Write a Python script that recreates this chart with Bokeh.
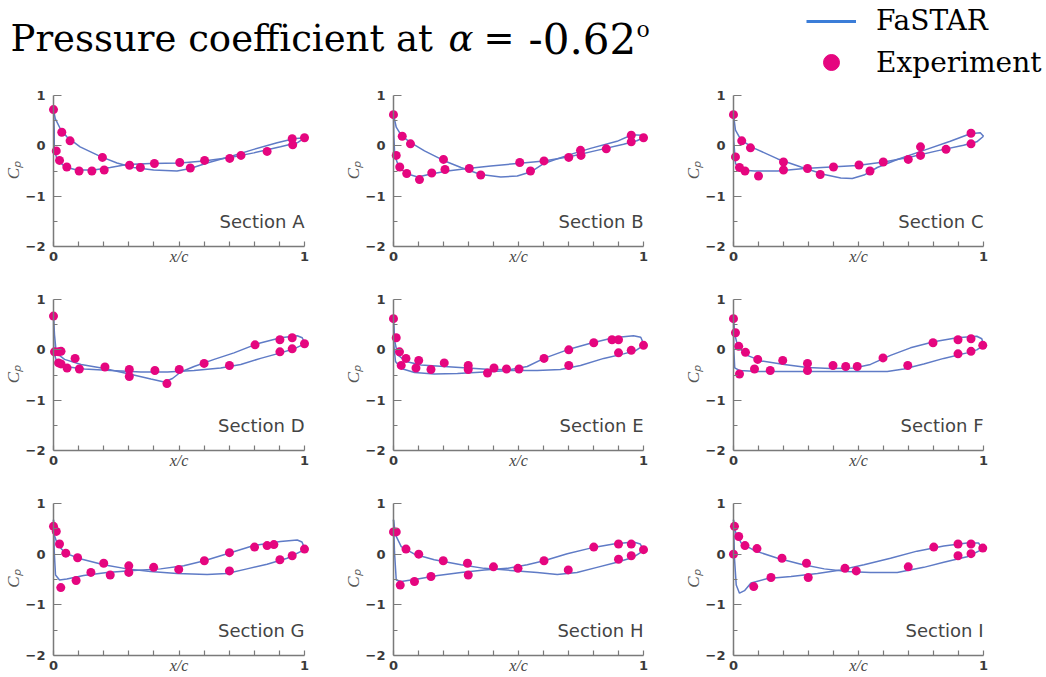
from bokeh.plotting import figure
from bokeh.models import Range1d, LinearAxis, FixedTicker, Label, Legend, LegendItem
from bokeh.layouts import column, row
from bokeh.embed import file_html
from bokeh.resources import INLINE

# ---------------- data ----------------
# Section A
a_s1_x = [0, 0.007, 0.027, 0.053, 0.106, 0.186, 0.253, 0.319, 0.399, 0.492, 0.545, 0.612, 0.705, 0.798, 0.891, 0.957, 1.0]
a_s1_cp = [0.72, 0.54, 0.34, 0.18, -0.02, -0.21, -0.34, -0.43, -0.48, -0.50, -0.45, -0.34, -0.21, -0.07, 0.06, 0.14, 0.16]
a_s2_x = [0, 0.003, 0.003, 0.016, 0.047, 0.093, 0.16, 0.226, 0.293, 0.386, 0.505, 0.598, 0.705, 0.798, 0.904, 0.971, 1.0]
a_s2_cp = [0.72, 0.31, -0.09, -0.29, -0.42, -0.48, -0.48, -0.43, -0.37, -0.35, -0.34, -0.30, -0.23, -0.14, -0.02, 0.06, 0.16]
a_exp_x = [0, 0.033, 0.066, 0.195, 0.011, 0.024, 0.053, 0.102, 0.153, 0.202, 0.303, 0.346, 0.402, 0.503, 0.545, 0.602, 0.702, 0.747, 0.851, 0.951, 0.953, 1.0]
a_exp_cp = [0.72, 0.27, 0.10, -0.23, -0.10, -0.29, -0.42, -0.50, -0.50, -0.48, -0.385, -0.43, -0.35, -0.33, -0.44, -0.29, -0.25, -0.19, -0.11, 0.14, 0.02, 0.16]

# Section B
b_s1_x = [0, 0.011, 0.031, 0.064, 0.124, 0.2, 0.27, 0.349, 0.429, 0.495, 0.548, 0.602, 0.695, 0.788, 0.894, 0.954, 0.993, 1.0]
b_s1_cp = [0.62, 0.37, 0.21, 0.08, -0.10, -0.29, -0.43, -0.57, -0.62, -0.60, -0.52, -0.35, -0.19, -0.05, 0.09, 0.22, 0.21, 0.16]
b_s2_x = [0, 0.001, 0.005, 0.02, 0.05, 0.097, 0.15, 0.216, 0.296, 0.389, 0.495, 0.602, 0.708, 0.814, 0.92, 0.973, 1.0]
b_s2_cp = [0.62, 0.24, -0.19, -0.40, -0.55, -0.62, -0.56, -0.50, -0.45, -0.40, -0.35, -0.30, -0.21, -0.09, 0.03, 0.10, 0.16]
b_exp_x = [0, 0.035, 0.068, 0.2, 0.011, 0.025, 0.053, 0.104, 0.153, 0.206, 0.303, 0.349, 0.505, 0.548, 0.602, 0.701, 0.748, 0.75, 0.851, 0.951, 0.951, 1.0]
b_exp_cp = [0.62, 0.19, 0.04, -0.27, -0.19, -0.42, -0.55, -0.67, -0.54, -0.47, -0.45, -0.58, -0.33, -0.50, -0.30, -0.23, -0.09, -0.19, -0.06, 0.21, 0.08, 0.16]

# Section C
c_s1_x = [0, 0.008, 0.031, 0.084, 0.177, 0.27, 0.363, 0.429, 0.475, 0.522, 0.575, 0.655, 0.761, 0.867, 0.947, 0.987, 1.0]
c_s1_cp = [0.62, 0.31, 0.11, -0.05, -0.26, -0.42, -0.57, -0.64, -0.65, -0.58, -0.43, -0.27, -0.09, 0.09, 0.24, 0.26, 0.19]
c_s2_x = [0, 0.001, 0.008, 0.031, 0.084, 0.177, 0.283, 0.389, 0.495, 0.602, 0.708, 0.814, 0.92, 0.973, 1.0]
c_s2_cp = [0.62, 0.11, -0.35, -0.48, -0.50, -0.50, -0.45, -0.42, -0.39, -0.32, -0.22, -0.10, 0.01, 0.08, 0.19]
c_exp_x = [0, 0.033, 0.068, 0.2, 0.2, 0.008, 0.024, 0.046, 0.1, 0.296, 0.347, 0.4, 0.502, 0.546, 0.599, 0.699, 0.748, 0.748, 0.85, 0.95, 0.95]
c_exp_cp = [0.62, 0.10, -0.04, -0.32, -0.48, -0.22, -0.43, -0.50, -0.60, -0.45, -0.57, -0.42, -0.38, -0.50, -0.32, -0.27, -0.02, -0.19, -0.07, 0.25, 0.04]

# Section D
d_s1_x = [0, 0.004, 0.011, 0.044, 0.11, 0.203, 0.302, 0.388, 0.441, 0.474, 0.507, 0.56, 0.64, 0.719, 0.812, 0.905, 0.971, 0.991, 1.0]
d_s1_cp = [0.67, 0.30, -0.06, -0.19, -0.29, -0.37, -0.48, -0.58, -0.64, -0.57, -0.44, -0.33, -0.19, -0.06, 0.12, 0.24, 0.28, 0.24, 0.14]
d_s2_x = [0, 0.001, 0.011, 0.044, 0.123, 0.229, 0.348, 0.454, 0.56, 0.666, 0.746, 0.825, 0.905, 0.958, 1.0]
d_s2_cp = [0.67, -0.03, -0.21, -0.33, -0.38, -0.41, -0.44, -0.44, -0.41, -0.36, -0.29, -0.17, -0.06, 0.02, 0.12]
d_exp_x = [0, 0.004, 0.02, 0.03, 0.086, 0.02, 0.03, 0.054, 0.103, 0.205, 0.302, 0.302, 0.404, 0.452, 0.501, 0.6, 0.701, 0.803, 0.902, 0.951, 0.902, 0.951, 1.0]
d_exp_cp = [0.67, -0.04, -0.04, -0.03, -0.17, -0.26, -0.28, -0.36, -0.38, -0.34, -0.39, -0.53, -0.41, -0.67, -0.39, -0.27, -0.31, 0.10, 0.20, 0.24, -0.04, 0.02, 0.12]

# Section E
e_s1_x = [0, 0.005, 0.017, 0.05, 0.11, 0.203, 0.296, 0.389, 0.469, 0.535, 0.602, 0.695, 0.788, 0.88, 0.96, 0.989, 1.0]
e_s1_cp = [0.62, 0.17, -0.10, -0.23, -0.30, -0.33, -0.36, -0.39, -0.39, -0.33, -0.17, 0.00, 0.13, 0.24, 0.28, 0.25, 0.12]
e_s2_x = [0, 0.001, 0.008, 0.031, 0.084, 0.163, 0.256, 0.363, 0.469, 0.575, 0.668, 0.748, 0.841, 0.92, 0.967, 1.0]
e_s2_cp = [0.62, 0.11, -0.23, -0.37, -0.45, -0.48, -0.47, -0.44, -0.41, -0.41, -0.39, -0.31, -0.17, -0.08, -0.02, 0.09]
e_exp_x = [0, 0.011, 0.024, 0.031, 0.05, 0.09, 0.101, 0.15, 0.203, 0.299, 0.299, 0.376, 0.402, 0.452, 0.502, 0.602, 0.701, 0.701, 0.801, 0.874, 0.9, 0.9, 0.951, 1.0]
e_exp_cp = [0.62, 0.24, -0.04, -0.31, -0.17, -0.36, -0.21, -0.39, -0.26, -0.31, -0.39, -0.46, -0.36, -0.38, -0.38, -0.17, 0.00, -0.31, 0.14, 0.20, 0.20, -0.06, -0.01, 0.09]

# Section F
f_s1_x = [0, 0.005, 0.017, 0.05, 0.11, 0.203, 0.296, 0.389, 0.482, 0.548, 0.628, 0.708, 0.801, 0.894, 0.973, 0.993, 1.0]
f_s1_cp = [0.62, 0.31, 0.07, -0.10, -0.22, -0.29, -0.35, -0.37, -0.36, -0.29, -0.11, 0.04, 0.16, 0.24, 0.27, 0.22, 0.10]
f_s2_x = [0, 0.001, 0.005, 0.024, 0.097, 0.23, 0.363, 0.495, 0.615, 0.681, 0.761, 0.841, 0.934, 0.973, 1.0]
f_s2_cp = [0.62, 0.04, -0.36, -0.41, -0.43, -0.43, -0.43, -0.43, -0.43, -0.38, -0.28, -0.17, -0.06, 0.00, 0.09]
f_exp_x = [0, 0.008, 0.021, 0.048, 0.024, 0.097, 0.084, 0.147, 0.197, 0.296, 0.296, 0.398, 0.449, 0.495, 0.598, 0.697, 0.798, 0.898, 0.95, 0.898, 0.95, 0.997]
f_exp_cp = [0.62, 0.34, 0.07, -0.05, -0.48, -0.19, -0.38, -0.41, -0.21, -0.27, -0.41, -0.31, -0.33, -0.33, -0.16, -0.31, 0.14, 0.20, 0.22, -0.08, -0.03, 0.09]

# Section G
g_s1_x = [0, 0.003, 0.016, 0.047, 0.106, 0.2, 0.293, 0.386, 0.492, 0.612, 0.691, 0.771, 0.851, 0.931, 1.0]
g_s1_cp = [0.68, 0.38, 0.19, 0.02, -0.09, -0.21, -0.29, -0.34, -0.38, -0.40, -0.38, -0.29, -0.20, -0.08, 0.09]
g_s2_x = [0, 0.003, 0.008, 0.024, 0.053, 0.12, 0.213, 0.319, 0.426, 0.519, 0.601, 0.705, 0.798, 0.904, 0.971, 0.99, 1.0]
g_s2_cp = [0.68, 0.05, -0.41, -0.51, -0.49, -0.42, -0.36, -0.32, -0.29, -0.23, -0.13, 0.03, 0.17, 0.25, 0.28, 0.24, 0.12]
g_exp_x = [0, 0.011, 0.024, 0.049, 0.096, 0.2, 0.3, 0.3, 0.399, 0.499, 0.601, 0.701, 0.701, 0.801, 0.851, 0.878, 0.902, 0.951, 1.0, 0.029, 0.09, 0.149, 0.226]
g_exp_cp = [0.55, 0.45, 0.20, 0.02, -0.07, -0.18, -0.23, -0.36, -0.26, -0.30, -0.13, 0.03, -0.33, 0.14, 0.17, 0.19, -0.11, -0.03, 0.10, -0.66, -0.52, -0.36, -0.41]

# Section H
h_s1_x = [0, 0.008, 0.031, 0.084, 0.163, 0.27, 0.363, 0.469, 0.575, 0.655, 0.734, 0.814, 0.894, 0.96, 1.0]
h_s1_cp = [0.68, 0.38, 0.15, 0.00, -0.11, -0.21, -0.28, -0.32, -0.36, -0.40, -0.36, -0.26, -0.16, -0.06, 0.07]
h_s2_x = [0, 0.004, 0.011, 0.031, 0.097, 0.177, 0.27, 0.363, 0.455, 0.535, 0.602, 0.695, 0.788, 0.88, 0.96, 0.987, 1.0]
h_s2_cp = [0.68, 0.05, -0.51, -0.54, -0.49, -0.42, -0.36, -0.31, -0.28, -0.21, -0.13, 0.01, 0.12, 0.20, 0.24, 0.20, 0.09]
h_exp_x = [0, 0.011, 0.05, 0.101, 0.199, 0.296, 0.4, 0.498, 0.602, 0.699, 0.801, 0.9, 0.951, 0.9, 0.951, 1.0, 0.027, 0.084, 0.15, 0.299]
h_exp_cp = [0.44, 0.44, 0.10, 0.00, -0.13, -0.18, -0.25, -0.28, -0.13, -0.31, 0.14, 0.20, 0.20, -0.10, -0.03, 0.09, -0.61, -0.54, -0.44, -0.41]

# Section I
i_s1_x = [0, 0.007, 0.031, 0.084, 0.177, 0.27, 0.363, 0.455, 0.548, 0.655, 0.761, 0.841, 0.934, 0.997]
i_s1_cp = [0.68, 0.45, 0.22, 0.07, -0.08, -0.20, -0.29, -0.34, -0.36, -0.36, -0.26, -0.16, -0.05, 0.10]
i_s2_x = [0, 0.004, 0.011, 0.024, 0.044, 0.07, 0.137, 0.23, 0.336, 0.429, 0.522, 0.628, 0.734, 0.841, 0.934, 0.98, 0.997]
i_s2_cp = [0.68, -0.08, -0.61, -0.77, -0.72, -0.57, -0.48, -0.44, -0.38, -0.31, -0.21, -0.08, 0.06, 0.16, 0.22, 0.22, 0.10]
i_exp_x = [0, 0.004, 0.021, 0.046, 0.094, 0.194, 0.292, 0.446, 0.491, 0.699, 0.801, 0.898, 0.95, 0.898, 0.95, 0.997, 0.081, 0.15, 0.299]
i_exp_cp = [0.00, 0.55, 0.35, 0.17, 0.11, -0.08, -0.18, -0.28, -0.33, -0.25, 0.14, 0.20, 0.20, -0.03, 0.01, 0.12, -0.64, -0.46, -0.46]

section_labels = ["Section A", "Section B", "Section C", "Section D", "Section E",
                  "Section F", "Section G", "Section H", "Section I"]

y_major = [-2, -1, 0, 1]
y_minor = [-1.5, -0.5, 0.5]
x_major = [0, 1]
x_minor = [0.1, 0.2, 0.3, 0.4, 0.5, 0.6, 0.7, 0.8, 0.9]

title_main = "Pressure coefficient at"
title_alpha = "α"
title_eq = "="
title_val = "-0.62"
title_deg = "o"
legend_cfd = "FaSTAR"
legend_exp = "Experiment"

LINE_COLOR = "#5f7bc6"
PT_COLOR = "#e5067f"
AX_COLOR = "#7a7a7a"
TXT_COLOR = "#3a3a3a"

panel_data = [
    (a_s1_x, a_s1_cp, a_s2_x, a_s2_cp, a_exp_x, a_exp_cp),
    (b_s1_x, b_s1_cp, b_s2_x, b_s2_cp, b_exp_x, b_exp_cp),
    (c_s1_x, c_s1_cp, c_s2_x, c_s2_cp, c_exp_x, c_exp_cp),
    (d_s1_x, d_s1_cp, d_s2_x, d_s2_cp, d_exp_x, d_exp_cp),
    (e_s1_x, e_s1_cp, e_s2_x, e_s2_cp, e_exp_x, e_exp_cp),
    (f_s1_x, f_s1_cp, f_s2_x, f_s2_cp, f_exp_x, f_exp_cp),
    (g_s1_x, g_s1_cp, g_s2_x, g_s2_cp, g_exp_x, g_exp_cp),
    (h_s1_x, h_s1_cp, h_s2_x, h_s2_cp, h_exp_x, h_exp_cp),
    (i_s1_x, i_s1_cp, i_s2_x, i_s2_cp, i_exp_x, i_exp_cp),
]

PX_PER_X = 251
PAD_PX = 5
FRAME_W = PX_PER_X + 2 * PAD_PX
FRAME_H = 154
PAD = PAD_PX / PX_PER_X
Y_TOP = 1.04


def style_axis(ax):
    ax.axis_line_color = AX_COLOR
    ax.axis_line_width = 1.5
    ax.major_tick_line_color = AX_COLOR
    ax.minor_tick_line_color = AX_COLOR
    ax.major_tick_line_width = 1.2
    ax.minor_tick_line_width = 1.2
    ax.major_tick_out = 0
    ax.minor_tick_out = 0
    ax.major_label_text_font = "DejaVu Sans"
    ax.major_label_text_font_style = "bold"
    ax.major_label_text_font_size = "13px"
    ax.major_label_text_color = TXT_COLOR


def make_panel(idx):
    s1x, s1c, s2x, s2c, ex, ec = panel_data[idx]
    col = idx % 3
    r = idx // 3
    left = 48 if col == 0 else 47
    right = 340 - left - FRAME_W
    top, bottom = [(11, 20), (30, 20), (30, 21)][r]
    h = top + FRAME_H + bottom
    p = figure(width=340, height=h, x_range=Range1d(-PAD, 1 + PAD), y_range=Range1d(-2, Y_TOP),
               x_axis_type=None, y_axis_type=None, toolbar_location=None,
               output_backend="svg", title=None,
               min_border_left=left, min_border_right=right,
               min_border_top=top, min_border_bottom=bottom)
    p.outline_line_color = None
    p.background_fill_color = "white"
    p.border_fill_color = "white"

    # axis line and ticks at x/c = 0
    yfix = LinearAxis(fixed_location=0, bounds=(-2, 1),
                      ticker=FixedTicker(ticks=y_major, minor_ticks=y_minor))
    style_axis(yfix)
    yfix.major_tick_in = 8
    yfix.minor_tick_in = 4
    yfix.major_label_text_color = None
    p.add_layout(yfix, "left")

    # tick labels and Cp title on the side
    ylab = LinearAxis(bounds=(-2, 1), ticker=FixedTicker(ticks=y_major, minor_ticks=[]))
    style_axis(ylab)
    ylab.axis_line_color = None
    ylab.major_tick_line_color = None
    ylab.minor_tick_line_color = None
    ylab.major_tick_in = 0
    ylab.minor_tick_in = 0
    ylab.major_label_standoff = 3
    ylab.axis_label = "Cₚ"
    ylab.axis_label_text_font = "Liberation Serif"
    ylab.axis_label_text_font_style = "italic"
    ylab.axis_label_text_font_size = "17px"
    ylab.axis_label_text_color = "#555555"
    ylab.axis_label_standoff = 0
    p.add_layout(ylab, "left")

    xax = LinearAxis(bounds=(0, 1), ticker=FixedTicker(ticks=x_major, minor_ticks=x_minor))
    style_axis(xax)
    xax.major_tick_in = 5
    xax.minor_tick_in = 5
    xax.major_label_standoff = 5
    xax.axis_label = "x/c"
    xax.axis_label_text_font = "Liberation Serif"
    xax.axis_label_text_font_style = "italic"
    xax.axis_label_text_font_size = "16px"
    xax.axis_label_text_color = "#444444"
    xax.axis_label_standoff = -16
    p.add_layout(xax, "below")

    p.line(s1x, s1c, line_color=LINE_COLOR, line_width=1.5)
    p.line(s2x, s2c, line_color=LINE_COLOR, line_width=1.5)
    p.scatter(ex, ec, size=9, fill_color=PT_COLOR, line_color=None)

    p.add_layout(Label(x=1.0, y=-1.5, text=section_labels[idx], text_align="right",
                       text_baseline="middle", text_font="DejaVu Sans",
                       text_font_size="18px", text_color="#444444"))
    return p


panels = [make_panel(i) for i in range(9)]

# ---------------- header: title + legend ----------------
HEADER_W = 1046
HEADER_H = 82
X_SHIFT = 20  # header data x = page x + X_SHIFT (keeps the legend proxies off-canvas)
header = figure(width=HEADER_W, height=HEADER_H,
                x_range=Range1d(X_SHIFT, HEADER_W + X_SHIFT), y_range=Range1d(HEADER_H, 0),
                x_axis_type=None, y_axis_type=None, toolbar_location=None,
                output_backend="svg", title=None, min_border=0)
header.outline_line_color = None


def title_label(x, y, text, size, style="normal"):
    header.add_layout(Label(x=x + X_SHIFT, y=y, text=text, text_baseline="alphabetic",
                            text_font="DejaVu Serif", text_font_style=style,
                            text_font_size=size, text_color="black"))


title_label(10, 38, title_main, "37px")
title_label(448, 38, title_alpha, "37px", "italic")
title_label(483, 38, title_eq, "37px")
title_label(528, 38, title_val, "42px")
title_label(636, 29, title_deg, "22px")

r_line = header.line(a_s1_x, a_s1_cp, line_color="#3b7dd8", line_width=3)
r_pt = header.scatter(a_exp_x, a_exp_cp, fill_color=PT_COLOR, line_color=PT_COLOR)

leg_common = dict(glyph_width=50, label_standoff=20, padding=0, margin=0, spacing=0,
                  label_text_font="DejaVu Serif", label_text_font_size="28px",
                  label_text_color="black", border_line_color=None, background_fill_alpha=0)
leg1 = Legend(items=[LegendItem(label=legend_cfd, renderers=[r_line])],
              location=(806, HEADER_H - 7 - 30), glyph_height=30, **leg_common)
leg2 = Legend(items=[LegendItem(label=legend_exp, renderers=[r_pt])],
              location=(806, 0), glyph_height=40, **leg_common)
header.add_layout(leg1, "center")
header.add_layout(leg2, "center")

layout = column(header,
                row(panels[0], panels[1], panels[2]),
                row(panels[3], panels[4], panels[5]),
                row(panels[6], panels[7], panels[8]))

open("out.html", "w").write(file_html(layout, INLINE))
